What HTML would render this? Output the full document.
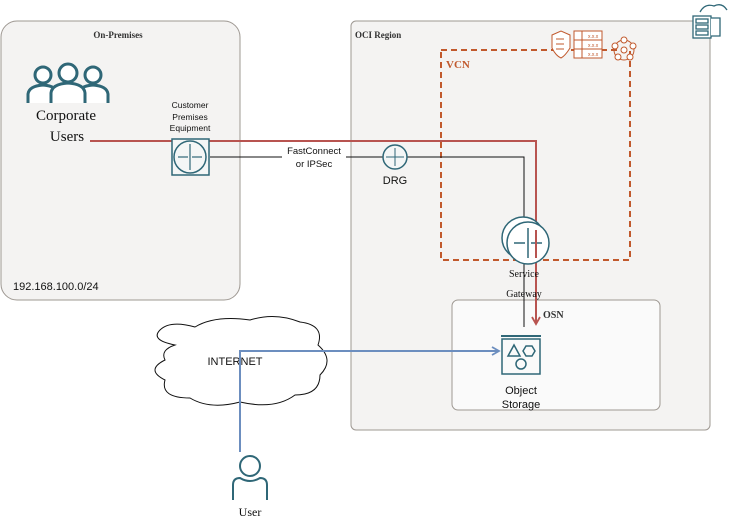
<!DOCTYPE html>
<html><head><style>
body{margin:0;background:#fff;}
svg{display:block;font-family:"Liberation Sans",sans-serif;}
.serif{font-family:"Liberation Serif",serif;}
</style></head><body>
<svg width="731" height="524" viewBox="0 0 731 524">
<defs>
<marker id="ar" markerWidth="10" markerHeight="10" refX="8" refY="5" orient="auto" markerUnits="userSpaceOnUse"><path d="M1,1 L8,5 L1,9" fill="none" stroke="#b85450" stroke-width="1.8"/></marker>
<marker id="ab" markerWidth="10" markerHeight="10" refX="8" refY="5" orient="auto" markerUnits="userSpaceOnUse"><path d="M1,1 L8,5 L1,9" fill="none" stroke="#6c8ebf" stroke-width="1.8"/></marker>
</defs>
<rect x="1" y="21" width="239" height="279" rx="16" fill="#f4f3f2" stroke="#9e9892"/>
<text x="118" y="38" text-anchor="middle" class="serif" font-size="9" font-weight="bold" fill="#333">On-Premises</text>
<text x="13" y="290" font-size="11" fill="#111">192.168.100.0/24</text>
<rect x="351" y="21" width="359" height="409" rx="5" fill="#f4f3f2" stroke="#9e9892"/>
<text x="355" y="38" class="serif" font-size="9" font-weight="bold" fill="#333">OCI Region</text>
<rect x="441" y="50" width="189" height="210" fill="none" stroke="#c1592d" stroke-width="2" stroke-dasharray="6,4"/>
<text x="446" y="68" class="serif" font-size="11" font-weight="bold" fill="#c1592d">VCN</text>
<rect x="452" y="300" width="208" height="110" rx="6" fill="#fafafa" stroke="#9e9892"/>
<text x="543" y="318" class="serif" font-size="10" font-weight="bold" fill="#333">OSN</text>
<g stroke="#c1592d" fill="#fff" stroke-width="1">
<path d="M552,35 L561,31 L570,35 L570,48 Q565,56 561,58 Q556,56 552,48 Z"/>
<line x1="556" y1="39" x2="564" y2="39"/><line x1="556" y1="44" x2="564" y2="44"/><line x1="556" y1="49" x2="564" y2="49"/>
<rect x="574" y="31" width="28" height="27"/>
<line x1="574" y1="40" x2="602" y2="40"/><line x1="574" y1="49" x2="602" y2="49"/><line x1="582" y1="31" x2="582" y2="58"/>
<circle cx="624" cy="50" r="10" fill="none"/>
<circle cx="624" cy="40" r="3"/><circle cx="633" cy="46" r="3"/><circle cx="630" cy="57" r="3"/><circle cx="618" cy="57" r="3"/><circle cx="615" cy="46" r="3"/><circle cx="624" cy="50" r="3"/>
</g>
<text x="588" y="38" font-size="5" fill="#c1592d">x.x.x</text><text x="588" y="47" font-size="5" fill="#c1592d">x.x.x</text><text x="588" y="56" font-size="5" fill="#c1592d">x.x.x</text>
<g stroke="#2f6777" fill="#fff" stroke-width="1.3">
<path d="M700,12 Q705,3 714,6 Q722,2 727,10" fill="none"/>
<rect x="693" y="16" width="18" height="22"/>
<rect x="696" y="19" width="12" height="4"/><rect x="696" y="25" width="12" height="4"/><rect x="696" y="31" width="12" height="4"/>
<path d="M711,18 L720,18 L720,36 L711,36"/>
</g>
<g stroke="#2f6777" stroke-width="3" fill="#fff">
<circle cx="43" cy="75" r="8"/><path d="M28,103 L28,94 Q29,86 43,85 Q57,86 58,94 L58,103"/>
<circle cx="93" cy="75" r="8"/><path d="M78,103 L78,94 Q79,86 93,85 Q107,86 108,94 L108,103"/>
<circle cx="68" cy="73" r="9"/><path d="M51,103 L51,93 Q52,84 68,83 Q84,84 85,93 L85,103"/>
</g>
<text x="66" y="120" text-anchor="middle" class="serif" font-size="15" fill="#111">Corporate</text>
<text x="67" y="141" text-anchor="middle" class="serif" font-size="15" fill="#111">Users</text>
<text x="190" y="108" text-anchor="middle" font-size="8.5" fill="#111">Customer</text>
<text x="190" y="120" text-anchor="middle" font-size="8.5" fill="#111">Premises</text>
<text x="190" y="131" text-anchor="middle" font-size="8.5" fill="#111">Equipment</text>
<polyline points="210,157 524,157 524,327" fill="none" stroke="#111" stroke-width="1"/>
<rect x="282" y="144" width="64" height="28" fill="#fff"/>
<text x="314" y="154" text-anchor="middle" font-size="9.5" fill="#111">FastConnect</text>
<text x="314" y="167" text-anchor="middle" font-size="9.5" fill="#111">or IPSec</text>
<polyline points="90,141 536,141 536,324" fill="none" stroke="#b85450" stroke-width="2" marker-end="url(#ar)"/>
<g stroke="#2f6777" fill="#f4f6f6" stroke-width="1.5">
<rect x="172" y="139" width="37" height="36"/>
<circle cx="190" cy="157" r="16"/>
</g>
<g stroke="#2f6777" stroke-width="1.2"><line x1="190" y1="144" x2="190" y2="170"/><line x1="178" y1="157" x2="188" y2="157"/><line x1="192" y1="157" x2="202" y2="157"/></g>
<circle cx="395" cy="157" r="12" fill="#f4f6f6" stroke="#2f6777" stroke-width="1.5"/>
<g stroke="#2f6777" stroke-width="1"><line x1="395" y1="148" x2="395" y2="166"/><line x1="386" y1="157" x2="404" y2="157"/></g>
<text x="395" y="184" text-anchor="middle" font-size="11" fill="#111">DRG</text>
<circle cx="523" cy="238" r="21" fill="#fff" stroke="#2f6777" stroke-width="1.5"/>
<circle cx="528" cy="243" r="21" fill="#fff" stroke="#2f6777" stroke-width="1.5"/>
<g stroke="#2f6777" stroke-width="1.5"><line x1="528" y1="228" x2="528" y2="258"/><line x1="514" y1="243" x2="525" y2="243"/><line x1="531" y1="243" x2="542" y2="243"/></g>
<line x1="536" y1="230" x2="536" y2="258" stroke="#b85450" stroke-width="2"/>
<text x="524" y="277" text-anchor="middle" class="serif" font-size="10" fill="#111">Service</text>
<text x="524" y="297" text-anchor="middle" class="serif" font-size="10" fill="#111">Gateway</text>
<path d="M175,345 Q150,340 160,330 Q170,320 195,327 Q215,315 250,320 Q275,312 300,322 Q325,325 318,345 Q335,360 320,375 Q320,395 295,395 Q275,410 240,402 Q210,410 190,398 Q160,398 165,380 Q145,370 165,360 Q160,350 175,345 Z" fill="#fff" stroke="#111" stroke-width="1"/>
<text x="235" y="365" text-anchor="middle" font-size="11" fill="#111">INTERNET</text>
<polyline points="240,452 240,351 499,351" fill="none" stroke="#6c8ebf" stroke-width="2" marker-end="url(#ab)"/>
<g stroke="#2f6777" fill="none" stroke-width="1.5">
<line x1="501" y1="336" x2="541" y2="336" stroke-width="2"/>
<rect x="502" y="339" width="38" height="35"/>
<path d="M508,356 L514,345 L520,356 Z"/>
<path d="M526,346 L532,346 L535,351 L532,356 L526,356 L523,351 Z"/>
<circle cx="521" cy="364" r="5"/>
</g>
<text x="521" y="394" text-anchor="middle" font-size="11" fill="#111">Object</text>
<text x="521" y="408" text-anchor="middle" font-size="11" fill="#111">Storage</text>
<g stroke="#2f6777" stroke-width="2" fill="none">
<circle cx="250" cy="466" r="10"/><path d="M233,500 L233,485 Q233,478 240,478 Q250,484 260,478 Q267,478 267,485 L267,500"/>
</g>
<text x="250" y="516" text-anchor="middle" class="serif" font-size="12" fill="#111">User</text>
</svg>
</body></html>
